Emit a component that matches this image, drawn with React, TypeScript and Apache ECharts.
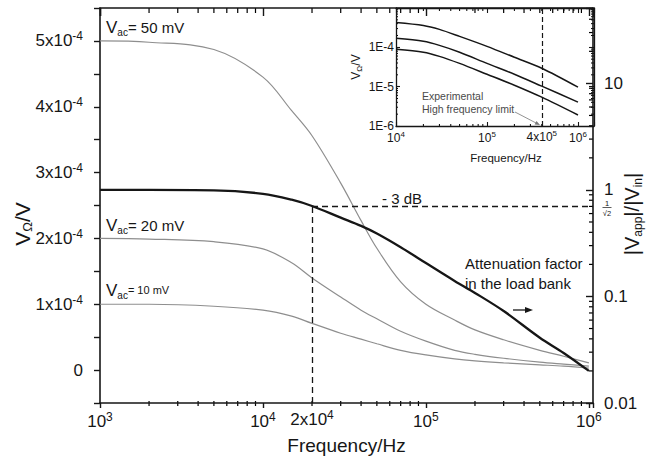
import React, { useEffect, useRef } from "react";
import * as echarts from "echarts";

const FONT = "'Liberation Sans', Arial, Helvetica, sans-serif";
const INK = "#161616";
const GRAY = "#8e8e8e";

// ---- main plot data ----
const freqHz = [1e3, 2e3, 5e3, 1e4, 1.5e4, 2e4, 3e4, 4e4, 5e4, 7e4, 1e5, 1.5e5, 2e5, 3e5, 5e5, 7e5, 1e6];
const vOmega50mV = [5.0e-4, 4.98e-4, 4.87e-4, 4.45e-4, 3.94e-4, 3.56e-4, 2.84e-4, 2.27e-4, 1.85e-4, 1.34e-4, 1.0e-4, 0.76e-4, 0.61e-4, 0.46e-4, 0.3e-4, 0.21e-4, 0.11e-4];
const vOmega20mV = [2.0e-4, 1.99e-4, 1.95e-4, 1.84e-4, 1.63e-4, 1.4e-4, 1.11e-4, 0.91e-4, 0.78e-4, 0.59e-4, 0.44e-4, 0.3e-4, 0.24e-4, 0.18e-4, 0.12e-4, 0.09e-4, 0.06e-4];
const vOmega10mV = [1.0e-4, 1.0e-4, 0.97e-4, 0.91e-4, 0.82e-4, 0.71e-4, 0.56e-4, 0.47e-4, 0.4e-4, 0.3e-4, 0.23e-4, 0.17e-4, 0.14e-4, 0.11e-4, 0.08e-4, 0.06e-4, 0.03e-4];
const attenuation = [1.0, 1.0, 0.99, 0.92, 0.81, 0.707, 0.55, 0.46, 0.39, 0.29, 0.206, 0.14, 0.108, 0.073, 0.041, 0.0295, 0.02];

// ---- inset data ----
const insetFreqHz = [1e4, 2e4, 3e4, 5e4, 1e5, 2e5, 4e5, 1e6];
const inset50mV = [4.3e-4, 3.6e-4, 2.86e-4, 1.9e-4, 1.06e-4, 5.6e-5, 2.94e-5, 9.7e-6];
const inset20mV = [1.69e-4, 1.42e-4, 1.12e-4, 7.5e-5, 3.9e-5, 2.07e-5, 1.03e-5, 4.06e-6];
const inset10mV = [8.9e-5, 7.5e-5, 5.9e-5, 3.9e-5, 2.07e-5, 1.09e-5, 5.4e-6, 1.9e-6];

const cutoffHz = 2e4;
const cutoffGain = 0.707;
const hfLimitHz = 4e5;

// ---- axis ranges ----
const F_MIN = 1e3, F_MAX = 1.06e6;
const V_MIN = -0.5e-4, V_MAX = 5.5e-4;
const G_MIN = 0.01, G_MAX = 51;
const IF_MIN = 1e4, IF_MAX = 1.5e6;
const IV_MIN = 1e-6, IV_MAX = 1e-3;

// ---- minor ticks (major ticks come from the axes themselves) ----
const decade = (b: number) => [2, 3, 4, 5, 6, 7, 8, 9].map((k) => k * b);
const freqMinorTicks = [...decade(1e3), ...decade(1e4), ...decade(1e5)];
const gainMinorTicks = [...decade(0.01), ...decade(0.1), ...decade(1), 20, 30, 40, 50];
const gainTickLabels: Record<number, string> = { [-2]: "0.01", [-1]: "0.1", 0: "1", 1: "10" };
const insetFreqMinor = [...decade(1e4), ...decade(1e5)];
const insetVMinor = [...decade(1e-6), ...decade(1e-5), ...decade(1e-4)];

const supRich = (size: number) => ({
  b: { fontSize: size, fontFamily: FONT, color: INK, lineHeight: size + 4 },
  s: { fontSize: Math.round(size * 0.68), fontFamily: FONT, color: INK, verticalAlign: "top", lineHeight: Math.round(size * 0.6) },
});

const pow10Label = (v: number) => {
  const l = Math.log10(v);
  const r = Math.round(l);
  if (Math.abs(l - r) > 1e-6) return "";
  return `{b|10}{s|${r}}`;
};

const axisLine = (w = 1.5) => ({ show: true, onZero: false, lineStyle: { color: INK, width: w } });
const axisTick = (inside: boolean, length: number, width = 1.4) => ({ show: true, inside, length, lineStyle: { color: INK, width } });

const richText = (x: number, y: number, text: string, rich: any, extra: any = {}) => {
  const style: any = { text, align: "left", verticalAlign: "middle", fontFamily: FONT, fill: INK, ...(extra.style || {}) };
  if (rich) style.rich = rich;
  return { type: "text", x, y, silent: true, ...extra, style };
};

const sty = (fontSize: number, more: any = {}) => ({ fontSize, fontFamily: FONT, fill: INK, ...more });

function annotationGraphics() {
  const vacRich = (tSize: number) => ({
    v: sty(17, { lineHeight: 20 }),
    s: sty(10, { verticalAlign: "bottom", lineHeight: 9 }),
    t: sty(tSize, { lineHeight: 20 }),
  });
  return [
    richText(106, 27, "{v|V}{s|ac}{t|= 50 mV}", vacRich(15)),
    richText(106, 225, "{v|V}{s|ac}{t|= 20 mV}", vacRich(15)),
    richText(106, 290, "{v|V}{s|ac}{t|= 10 mV}", vacRich(11)),
    richText(382, 198, "- 3 dB", null, { style: { fontSize: 15 } }),
    richText(465, 263, "Attenuation factor", null, { style: { fontSize: 15 } }),
    richText(465, 283, "in the load bank", null, { style: { fontSize: 15 } }),
    { type: "line", silent: true, shape: { x1: 513, y1: 310, x2: 527, y2: 310 }, style: { stroke: INK, lineWidth: 1.3 } },
    { type: "polygon", silent: true, shape: { points: [[533, 310], [525, 307], [525, 313]] }, style: { fill: INK } },
    richText(422, 96, "Experimental", null, { style: { fontSize: 10.5, fill: "#4a4a4a" } }),
    richText(422, 109, "High frequency limit", null, { style: { fontSize: 10.5, fill: "#4a4a4a" } }),
    { type: "line", silent: true, shape: { x1: 515, y1: 112, x2: 537, y2: 123.5 }, style: { stroke: "#777", lineWidth: 0.8 } },
    { type: "polygon", silent: true, shape: { points: [[540, 125], [534.6, 124.5], [536.5, 120.9]] }, style: { fill: "#777" } },
    richText(22, 224, "{v|V}{s|Ω}{v|/V}", { v: sty(21, { lineHeight: 24 }), s: sty(13, { verticalAlign: "bottom", lineHeight: 11 }) }, {
      rotation: Math.PI / 2,
      style: { align: "center" },
    }),
    richText(632, 214, "{b||V}{s|app}{b||/|V}{s|in}{b||}", { b: sty(20, { lineHeight: 24 }), s: sty(12, { verticalAlign: "bottom", lineHeight: 10 }) }, {
      rotation: Math.PI / 2,
      style: { align: "center" },
    }),
    richText(607, 203, "1", null, { style: { fontSize: 7.5, align: "center" } }),
    { type: "line", silent: true, shape: { x1: 602.5, y1: 207.5, x2: 611.5, y2: 207.5 }, style: { stroke: INK, lineWidth: 0.7 } },
    richText(607, 213, "√2", null, { style: { fontSize: 7.5, align: "center" } }),
  ];
}

// minor tick marks, positioned through the chart's own axis scales
function minorTickGraphics(chart: any) {
  const X = (i: number, v: number) => chart.convertToPixel({ xAxisIndex: i }, v) as number;
  const Y = (i: number, v: number) => chart.convertToPixel({ yAxisIndex: i }, v) as number;
  const out: any[] = [];
  const seg = (x1: number, y1: number, x2: number, y2: number, w: number) =>
    out.push({ type: "line", shape: { x1, y1, x2, y2 }, style: { stroke: "#000000", lineWidth: w } });

  const mb = Y(0, V_MIN), mt = Y(0, V_MAX), mr = X(0, F_MAX);
  freqMinorTicks.forEach((v) => { const x = X(0, v); seg(x, mb + 3, x, mb - 2, 1.2); seg(x, mt, x, mt + 5, 1.2); });
  gainMinorTicks.forEach((v) => { const y = Y(1, v); seg(mr, y, mr - 4, y, 1.2); });

  const ib = Y(2, IV_MIN), it = Y(2, IV_MAX), il = X(2, IF_MIN), ir = X(2, IF_MAX);
  insetFreqMinor.forEach((v) => { const x = X(2, v); seg(x, ib, x, ib - 2, 1); seg(x, it, x, it + 3, 1); });
  insetVMinor.forEach((v) => { const y = Y(2, v); seg(il, y, il + 2, y, 1); seg(ir, y, ir - 3, y, 1); });
  return out;
}

function buildOption() {
  const pair = (xs: number[], ys: number[]) => xs.map((x, i) => [x, ys[i]]);
  const grayLine = (name: string, ys: number[]) => ({
    name, type: "line", xAxisIndex: 0, yAxisIndex: 0, data: pair(freqHz, ys), showSymbol: false,
    smooth: 0.35, lineStyle: { color: GRAY, width: 1.2 }, z: 3,
  });
  const insetLine = (name: string, ys: number[], extra: any = {}) => ({
    name, type: "line", xAxisIndex: 2, yAxisIndex: 2, data: pair(insetFreqHz, ys), showSymbol: false,
    smooth: 0.3, lineStyle: { color: INK, width: 1.5 }, z: 4, ...extra,
  });

  return {
    animation: false,
    grid: [
      { left: 100, top: 8, width: 493, height: 395 },
      { left: 396, top: 8, width: 198, height: 118 },
    ],
    xAxis: [
      {
        type: "log", logBase: 10, gridIndex: 0, min: F_MIN, max: F_MAX, position: "bottom",
        axisLine: axisLine(1.6), axisTick: axisTick(false, 5), splitLine: { show: false },
        axisLabel: { margin: 8, formatter: pow10Label, rich: supRich(17), fontFamily: FONT, color: INK },
        name: "Frequency/Hz", nameLocation: "middle", nameGap: 33,
        nameTextStyle: { fontSize: 19, fontFamily: FONT, color: INK },
      },
      {
        type: "log", logBase: 10, gridIndex: 0, min: F_MIN, max: F_MAX, position: "top",
        axisLine: axisLine(1.6), axisTick: axisTick(true, 8), splitLine: { show: false }, axisLabel: { show: false },
      },
      {
        type: "log", logBase: 10, gridIndex: 1, min: IF_MIN, max: IF_MAX, position: "bottom",
        axisLine: axisLine(1.3), axisTick: axisTick(true, 4, 1.1), splitLine: { show: false },
        axisLabel: { margin: 4, formatter: pow10Label, rich: supRich(12), fontFamily: FONT, color: INK },
        name: "Frequency/Hz", nameLocation: "middle", nameGap: 26,
        nameTextStyle: { fontSize: 11.5, fontFamily: FONT, color: INK, padding: [0, 0, 0, 22] },
      },
      {
        type: "log", logBase: 10, gridIndex: 1, min: IF_MIN, max: IF_MAX, position: "top",
        axisLine: axisLine(1.3), axisTick: axisTick(true, 5, 1.1), splitLine: { show: false }, axisLabel: { show: false },
      },
    ],
    yAxis: [
      {
        type: "value", gridIndex: 0, min: V_MIN, max: V_MAX, interval: 0.5e-4, position: "left",
        axisLine: axisLine(1.6), axisTick: axisTick(false, 6), splitLine: { show: false },
        axisLabel: {
          margin: 17, fontFamily: FONT, color: INK, rich: supRich(17),
          formatter: (v: number) => {
            const n = Math.round(v * 2e4);
            if (n === 0) return "{b|0}";
            if (n < 0 || n % 2 !== 0) return "";
            return `{b|${n / 2}x10}{s|-4}`;
          },
        },
      },
      {
        type: "log", logBase: 10, gridIndex: 0, min: G_MIN, max: G_MAX, position: "right",
        axisLine: axisLine(1.6), axisTick: axisTick(true, 7), splitLine: { show: false },
        axisLabel: {
          margin: 11, fontSize: 17, lineHeight: 14, fontFamily: FONT, color: INK,
          formatter: (v: number) => {
            const l = Math.log10(v);
            const r = Math.round(l);
            if (Math.abs(l - r) > 1e-6) return "";
            return gainTickLabels[r] ?? "";
          },
        },
      },
      {
        type: "log", logBase: 10, gridIndex: 1, min: IV_MIN, max: IV_MAX, position: "left",
        axisLine: axisLine(1.3), axisTick: axisTick(true, 4, 1.1), splitLine: { show: false },
        axisLabel: {
          margin: 2, fontSize: 12, fontFamily: FONT, color: INK,
          formatter: (v: number) => {
            const r = Math.round(Math.log10(v));
            return r === -3 ? "" : `1E${r}`;
          },
        },
        name: "{v|V}{s|Ω}{v|/V}", nameLocation: "middle", nameRotate: 90, nameGap: 33,
        nameTextStyle: {
          rich: {
            v: { fontSize: 12, fontFamily: FONT, color: INK, lineHeight: 14 },
            s: { fontSize: 8, fontFamily: FONT, color: INK, verticalAlign: "bottom", lineHeight: 7 },
          },
        },
      },
      {
        type: "log", logBase: 10, gridIndex: 1, min: IV_MIN, max: IV_MAX, position: "right",
        axisLine: axisLine(1.3), axisTick: axisTick(true, 5, 1.1), splitLine: { show: false }, axisLabel: { show: false },
      },
    ],
    series: [
      grayLine("Vac = 50 mV", vOmega50mV),
      grayLine("Vac = 20 mV", vOmega20mV),
      grayLine("Vac = 10 mV", vOmega10mV),
      {
        name: "Attenuation factor", type: "line", xAxisIndex: 0, yAxisIndex: 1,
        data: pair(freqHz, attenuation), showSymbol: false, smooth: 0.35,
        lineStyle: { color: INK, width: 2.3 }, z: 5,
        markLine: {
          silent: true,
          symbol: ["none", "none"],
          lineStyle: { color: INK, width: 1.3, type: [6, 4] },
          data: [
            [
              { coord: [cutoffHz, G_MIN], label: { show: true, position: "start", distance: 6, formatter: "{b|2x10}{s|4}", rich: supRich(17) } },
              { coord: [cutoffHz, cutoffGain] },
            ],
            [
              { coord: [cutoffHz, cutoffGain], label: { show: false } },
              { coord: [F_MAX, cutoffGain] },
            ],
          ],
        },
      },
      insetLine("inset 50 mV", inset50mV, {
        markLine: {
          silent: true,
          symbol: ["none", "none"],
          lineStyle: { color: INK, width: 1.2, type: [5, 3] },
          data: [
            [
              { coord: [hfLimitHz, IV_MIN], label: { show: true, position: "start", distance: 3, formatter: "{b|4x10}{s|5}", rich: supRich(12) } },
              { coord: [hfLimitHz, IV_MAX] },
            ],
          ],
        },
      }),
      insetLine("inset 20 mV", inset20mV),
      insetLine("inset 10 mV", inset10mV),
    ],
  };
}

export default function App() {
  const ref = useRef<HTMLDivElement>(null);
  useEffect(() => {
    if (!ref.current) return;
    const chart = echarts.init(ref.current, null, { renderer: "svg" });
    chart.setOption({ ...buildOption(), graphic: { elements: annotationGraphics() } } as any);
    try {
      const minors = minorTickGraphics(chart);
      chart.setOption({ graphic: { elements: [...annotationGraphics(), ...minors] } } as any);
    } catch (e) {
      // keep the chart as already drawn
    }
    return () => chart.dispose();
  }, []);
  return (
    <div ref={ref} style={{ position: "fixed", left: 0, top: 0, width: 648, height: 468, background: "#ffffff" }} />
  );
}
